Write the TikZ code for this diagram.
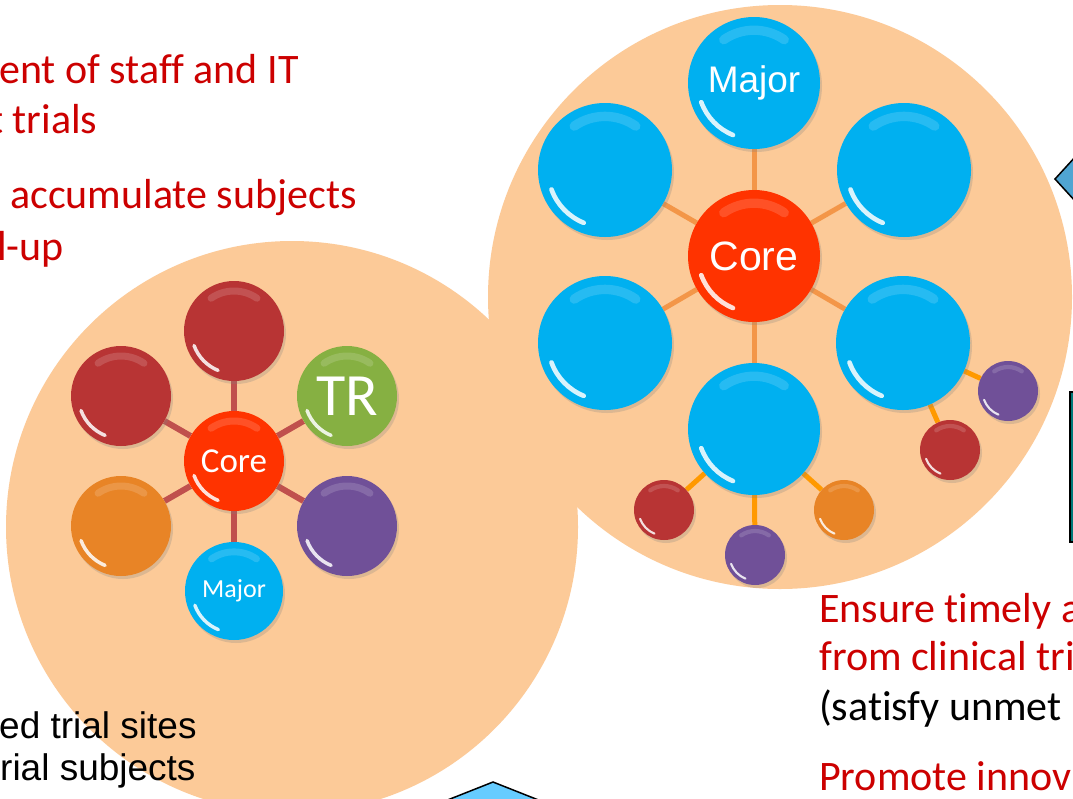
\documentclass[tikz,border=0pt]{standalone}
\usepackage{fontspec}
\setmainfont{Carlito}[Ligatures=NoCommon]
\newfontfamily\arialf{Liberation Sans}
\usetikzlibrary{shadows}
\pgfdeclarelayer{bg}
\pgfsetlayers{bg,main}
\definecolor{peach}{RGB}{252,202,152}
\definecolor{ballred}{RGB}{184,52,52}
\definecolor{ballgreen}{RGB}{134,176,66}
\definecolor{ballorange}{RGB}{232,132,38}
\definecolor{ballpurple}{RGB}{112,80,152}
\definecolor{ballblue}{RGB}{0,176,240}
\definecolor{corered}{RGB}{255,51,0}
\definecolor{linkred}{RGB}{192,80,77}
\definecolor{linkorange}{RGB}{243,150,72}
\definecolor{linkamber}{RGB}{255,153,0}
\definecolor{textred}{RGB}{204,0,0}
\definecolor{wedgeblue}{RGB}{80,165,210}
\definecolor{arrowblue}{RGB}{102,204,255}
\definecolor{boxteal}{RGB}{0,120,120}
\newcommand\ballnode[7]{%
  \node[ball, fill=#5, minimum size={2*#4}, font=#6] (#1) at (#2,#3) {#7};
  \draw[gloss, line width={0.07*#4}] (#2,#3) ++(112:{0.85*#4}) arc[start angle=112, end angle=160, radius={0.85*#4}];
  \draw[sheen, line width={0.14*#4}] (#2,#3) ++(235:{0.8*#4}) arc[start angle=235, end angle=305, radius={0.8*#4}];
}
\begin{document}
\begin{tikzpicture}[x=1pt,y=-1pt,
  ball/.style={circle, inner sep=0pt, text=white,
    drop shadow={shadow xshift=2pt, shadow yshift=-3pt, opacity=0.25}},
  gloss/.style={white, opacity=0.85, line cap=round},
  sheen/.style={white, opacity=0.15, line cap=round},
  llink/.style={linkred, line width=6pt},
  rlink/.style={linkorange, line width=5pt},
  slink/.style={linkamber, line width=5pt},
  redtxt/.style={text=textred, inner sep=0pt, anchor=base west, font=\fontsize{42}{50}\selectfont},
  blktxt/.style={text=black, inner sep=0pt, anchor=base west, font=\fontsize{42}{50}\selectfont},
  arialtxt/.style={text=black, inner sep=0pt, anchor=base west, font=\arialf\fontsize{37}{44}\selectfont}]
\useasboundingbox (0,0) rectangle (1073,798);
\clip (0,0) rectangle (1073,798);
\begin{pgfonlayer}{bg}
\fill[white] (0,0) rectangle (1073,798);
\fill[peach] (292,527) circle[radius=286];
\fill[peach] (780,297) circle[radius=292];
\end{pgfonlayer}

% side fragments
\filldraw[fill=wedgeblue, draw=black, line width=1.5pt] (1076,156) -- (1055,179) -- (1076,202);
\filldraw[fill=arrowblue, draw=black, line width=1.5pt] (445,801) -- (493,782) -- (541,801);
\filldraw[fill=boxteal, draw=black, line width=2pt] (1070,392) rectangle (1090,542);

% left cluster
\ballnode{lcore}{234}{461}{50}{corered}{\fontsize{35}{40}\selectfont}{Core}
\ballnode{ltop}{234}{331}{50}{ballred}{}{}
\ballnode{lul}{121}{396}{50}{ballred}{}{}
\ballnode{ltr}{347}{396}{50}{ballgreen}{\fontsize{60}{60}\selectfont}{TR}
\ballnode{lll}{121}{526}{50}{ballorange}{}{}
\ballnode{llr}{347}{526}{50}{ballpurple}{}{}
\ballnode{lmaj}{234}{591}{49}{ballblue}{\fontsize{26}{30}\selectfont}{Major}

% right cluster
\ballnode{rcore}{754}{256}{66}{corered}{\arialf\fontsize{41}{46}\selectfont}{Core}
\ballnode{rmaj}{754}{83}{66}{ballblue}{\arialf\fontsize{37}{42}\selectfont}{Major}
\ballnode{rul}{605}{170}{67}{ballblue}{}{}
\ballnode{rur}{904}{170}{67}{ballblue}{}{}
\ballnode{rll}{605}{343}{67}{ballblue}{}{}
\ballnode{rlr}{903}{343}{67}{ballblue}{}{}
\ballnode{rbot}{754}{429}{66}{ballblue}{}{}
\ballnode{s1}{1008}{391}{30}{ballpurple}{}{}
\ballnode{s2}{950}{450}{30}{ballred}{}{}
\ballnode{s3}{664}{510}{30}{ballred}{}{}
\ballnode{s4}{755}{555}{30}{ballpurple}{}{}
\ballnode{s5}{844}{510}{30}{ballorange}{}{}

\begin{pgfonlayer}{bg}
\foreach \n in {ltop,lul,ltr,lll,llr,lmaj} \draw[llink] (lcore) -- (\n);
\foreach \n in {rmaj,rul,rur,rll,rlr,rbot} \draw[rlink] (rcore) -- (\n);
\draw[slink] (rlr) -- (s1);
\draw[slink] (rlr) -- (s2);
\draw[slink] (rbot) -- (s3);
\draw[slink] (rbot) -- (s4);
\draw[slink] (rbot) -- (s5);
\end{pgfonlayer}

% texts
\node[redtxt] (t1) at (-1,83) {ent of staff and IT};
\node[redtxt] (t2) at (-11,133) {t trials};
\node[redtxt] (t3) at (10,208) {accumulate subjects};
\node[redtxt] (t4) at (-3,260) {l-up};
\node[arialtxt] (b1) at (-1,738) {ed trial sites};
\node[arialtxt] (b2) at (0,780) {rial subjects};
\node[redtxt] (r1) at (819,622) {Ensure timely a};
\node[redtxt] (r2) at (819,670) {from clinical tri};
\node[blktxt] (r3) at (819,720) {(satisfy unmet};
\node[redtxt] (r4) at (819,790) {Promote innov};
\end{tikzpicture}
\end{document}
